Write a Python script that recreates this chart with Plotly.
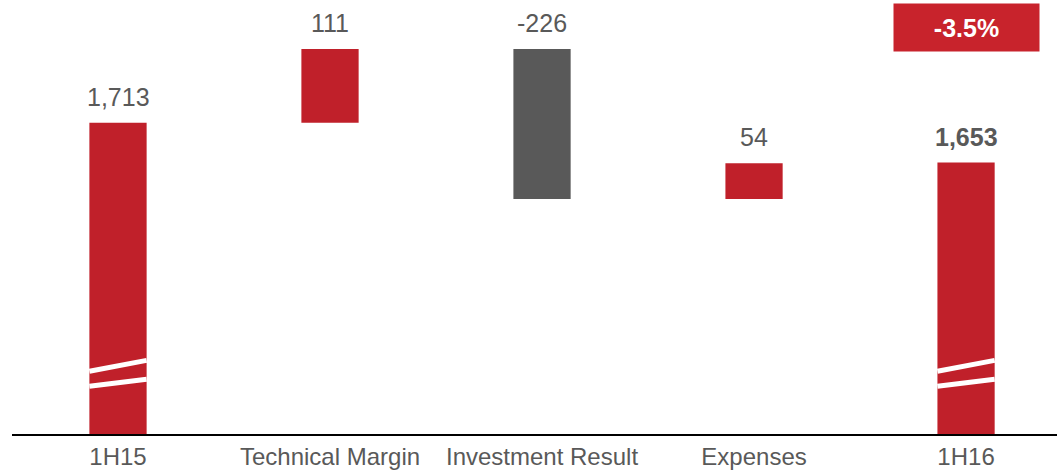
import plotly.graph_objects as go

categories = ["1H15", "Technical Margin", "Investment Result", "Expenses", "1H16"]
values = [1713, 111, -226, 54, 1653]
measures = ["absolute", "relative", "relative", "relative", "absolute"]
labels = ["1,713", "111", "-226", "54", "<b>1,653</b>"]
change_label = "<b>-3.5%</b>"

# break-mark stripes (data units): (left y, right y)
break_marks = [(1338.5, 1355), (1316, 1326.5)]
broken_bars = [0, 4]

RED = "#C0202A"
GRAY_BAR = "#595959"
TEXT = "#595959"
FONT = "Arial, Liberation Sans, sans-serif"
BAR_W = 0.27

fig = go.Figure()
fig.add_trace(go.Waterfall(
    x=categories, y=values, measure=measures,
    width=[BAR_W] * len(values),
    increasing=dict(marker=dict(color=RED)),
    decreasing=dict(marker=dict(color=GRAY_BAR)),
    totals=dict(marker=dict(color=RED)),
    connector=dict(visible=False),
    hoverinfo="skip",
))

# compute bar tops for labels
running = 0
tops = []
for v, m in zip(values, measures):
    if m == "absolute":
        running = v
        tops.append(v)
    else:
        start = running
        running += v
        tops.append(max(start, running))

for i, (cat, top, lab) in enumerate(zip(categories, tops, labels)):
    fig.add_annotation(x=cat, y=top, text=lab, showarrow=False,
                       yanchor="bottom", yshift=10,
                       font=dict(family=FONT, size=25, color=TEXT))

for b in broken_bars:
    for yl, yr in break_marks:
        fig.add_shape(type="line", xref="x", yref="y",
                      x0=b - BAR_W / 2, x1=b + BAR_W / 2, y0=yl, y1=yr,
                      line=dict(color="white", width=5))

fig.add_annotation(x=categories[-1], xref="x", y=1 - 28 / 436, yref="paper",
                   text=change_label, showarrow=False,
                   width=145, height=47, borderpad=0, bgcolor="#C8232C",
                   font=dict(family=FONT, size=25, color="white"),
                   xanchor="center", yanchor="middle")

fig.update_layout(
    width=1057, height=470,
    margin=dict(l=12, r=0, t=0, b=34),
    paper_bgcolor="white", plot_bgcolor="white",
    showlegend=False,
    xaxis=dict(range=[-0.5, 4.429], showline=True, linecolor="black", linewidth=2,
               showgrid=False, zeroline=False, ticks="",
               tickfont=dict(family=FONT, size=24, color=TEXT)),
    yaxis=dict(range=[1244, 1898], visible=False, showgrid=False, zeroline=False),
)

fig.write_html("out.html", config={"displayModeBar": False, "staticPlot": True},
               post_script="document.body.style.margin='0';document.body.style.padding='0';document.body.style.overflow='hidden';")
